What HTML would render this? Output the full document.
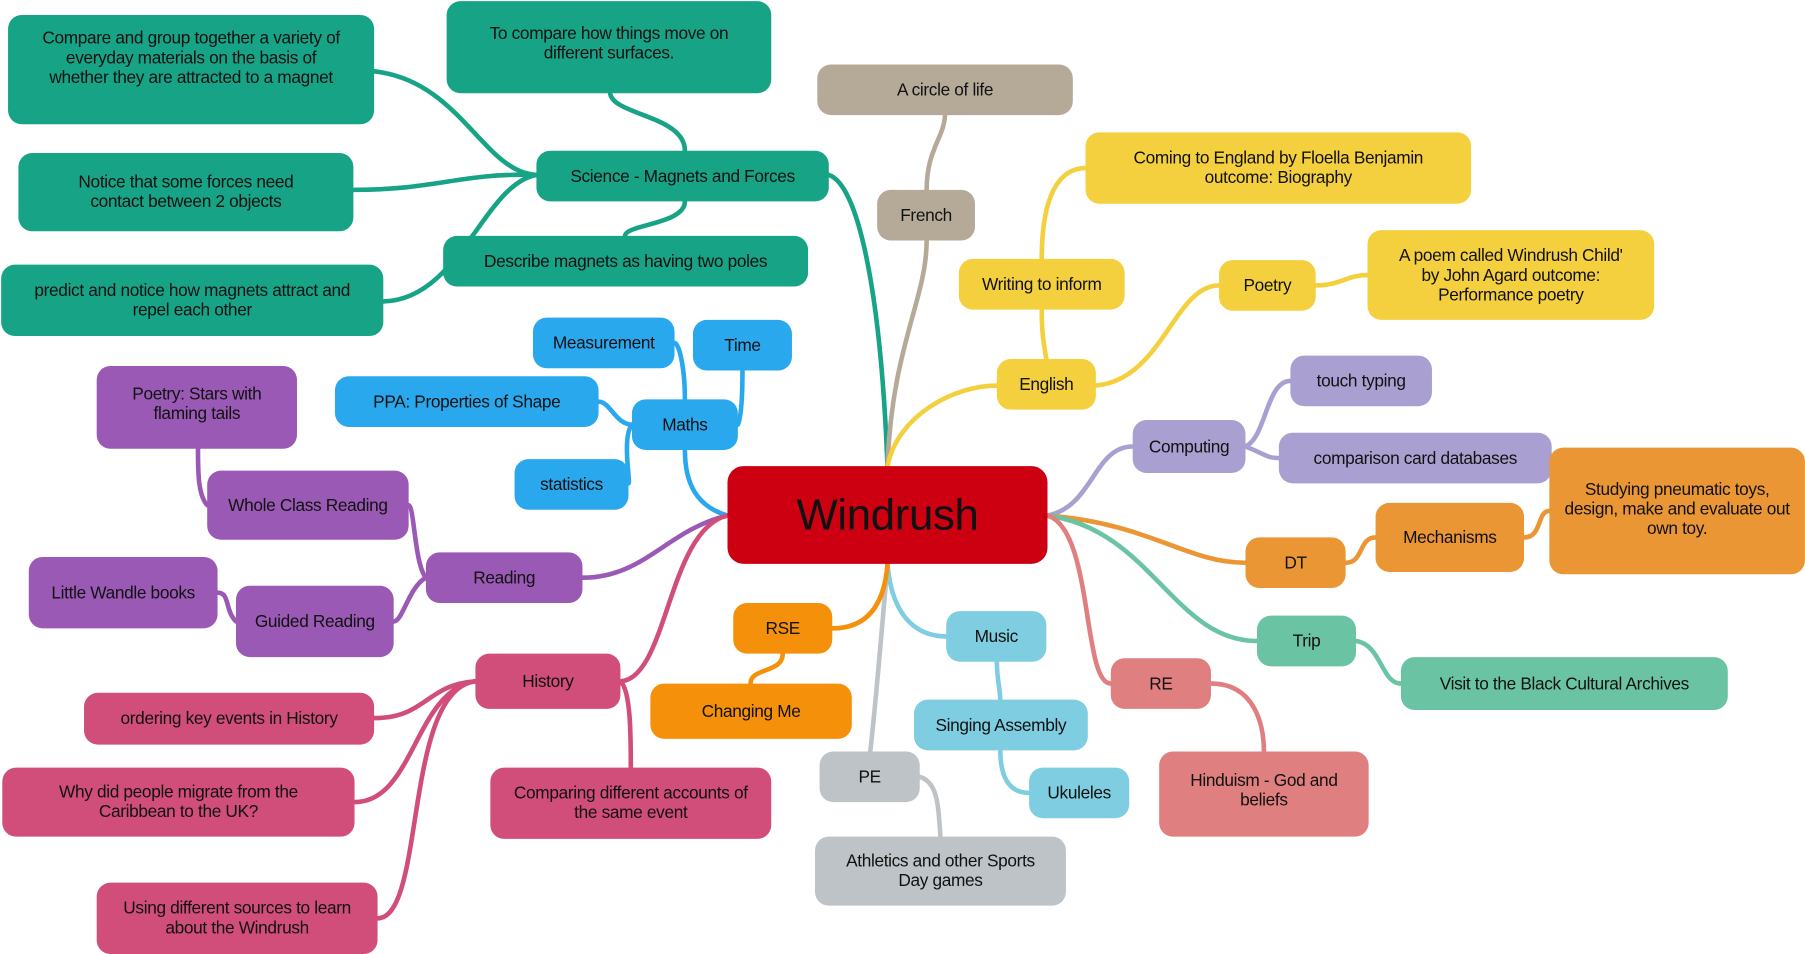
<!DOCTYPE html>
<html><head><meta charset="utf-8"><style>
html,body{margin:0;padding:0;background:#fff;width:1805px;height:954px;overflow:hidden}
#w{position:absolute;left:0;top:0;width:1568px;height:829px;transform:scale(1.1511,1.1508);transform-origin:0 0}
svg{position:absolute;left:0;top:0}
.n{position:absolute;display:flex;align-items:center;justify-content:center;text-align:center;border-radius:12px;font-family:"Liberation Sans",sans-serif;font-size:15px;line-height:17px;color:#111;box-sizing:border-box;padding:4px 8px;letter-spacing:-0.3px}
.x{padding-left:20px;padding-right:20px}
.g{background:#17a386}.b{background:#b5aa98}.y{background:#f4d03f}.p{background:#a9a0d1}.o{background:#ea9634}.t{background:#6ac4a4}.r{background:#e07f80}.m{background:#7ecde0}.s{background:#bdc3c7}.q{background:#f5900a}.k{background:#29a8ee}.v{background:#9b59b6}.h{background:#d14d7a}
</style></head><body><div id="w">
<svg width="1568" height="829" fill="none" stroke-width="4" stroke-linecap="round">
<g stroke="#17a386"><path d="M771,405 C765,250 745,160 720,152"/><path d="M466,152 C420,150 400,70 325,62"/><path d="M466,152 C400,150 380,165 307,165"/><path d="M466,152 C420,160 400,260 333,262"/><path d="M595,131 C595,100 530,100 530,80"/><path d="M595,175 C595,195 543,195 543,205"/></g>
<g stroke="#b5aa98"><path d="M771,405 C775,300 805,260 805,209"/><path d="M805,165 C805,130 820,120 821,100"/></g>
<g stroke="#f4d03f"><path d="M771,405 C780,360 830,335 866,335"/><path d="M909,312 C905,290 905,280 905,269"/><path d="M905,225 C905,170 920,146 943,146"/><path d="M952,335 C1010,330 1020,248 1059,248"/><path d="M1143,248 C1165,248 1170,239 1188,239"/></g>
<g stroke="#a9a0d1"><path d="M910,448 C950,440 950,388 984,388"/><path d="M1082,388 C1100,380 1100,331 1121,331"/><path d="M1082,388 C1100,395 1100,398 1111,398"/></g>
<g stroke="#ea9634"><path d="M910,448 C1000,455 1030,489 1082,489"/><path d="M1169,489 C1185,489 1180,467 1195,467"/><path d="M1324,467 C1340,467 1335,444 1346,444"/></g>
<g stroke="#6ac4a4"><path d="M910,448 C1000,460 1020,557 1092,557"/><path d="M1178,557 C1200,560 1200,594 1217,594"/></g>
<g stroke="#e07f80"><path d="M910,448 C950,460 940,594 965,594"/><path d="M1052,594 C1090,594 1098,630 1098,653"/></g>
<g stroke="#7ecde0"><path d="M771,490 C775,540 800,553 822,553"/><path d="M866,575 C866,590 869,600 869,608"/><path d="M869,652 C869,680 880,689 894,689"/></g>
<g stroke="#bdc3c7"><path d="M771,490 C765,560 760,620 756,653"/><path d="M799,675 C815,680 815,700 817,727"/></g>
<g stroke="#f5900a"><path d="M771,490 C768,530 750,546 723,546"/><path d="M680,568 C680,585 652,580 652,594"/></g>
<g stroke="#29a8ee"><path d="M632,448 C605,440 595,420 595,391"/><path d="M595,347 C595,320 590,298 586,298"/><path d="M641,369 C645,360 645,330 645,322"/><path d="M549,369 C535,369 530,349 520,349"/><path d="M549,369 C540,380 548,420 546,420"/></g>
<g stroke="#9b59b6"><path d="M632,448 C580,460 560,502 506,502"/><path d="M370,502 C360,490 360,440 355,439"/><path d="M180,439 C172,430 172,410 172,390"/><path d="M370,502 C355,510 350,540 342,540"/><path d="M205,540 C195,530 200,515 189,515"/></g>
<g stroke="#d14d7a"><path d="M632,448 C580,460 580,590 539,592"/><path d="M413,592 C370,595 370,624 325,624"/><path d="M413,592 C360,600 360,697 308,697"/><path d="M413,592 C350,600 370,798 328,798"/><path d="M539,592 C548,600 548,640 548,667"/></g>
</svg>
<div class="n" style="left:632px;top:405px;width:278px;height:85px;background:#cc0011;font-size:38px;line-height:44px;border-radius:14px">Windrush</div>
<div class="n g x" style="left:7px;top:13px;width:318px;height:95px;align-items:flex-start;padding-top:12px;padding-left:26px;padding-right:26px">Compare and group together a variety of everyday materials on the basis of whether they are attracted to a magnet</div>
<div class="n g x" style="left:388px;top:1px;width:282px;height:80px;align-items:flex-start;padding-top:20px">To compare how things move on different surfaces.</div>
<div class="n g" style="left:466px;top:131px;width:254px;height:44px">Science - Magnets and Forces</div>
<div class="n g x" style="left:16px;top:133px;width:291px;height:68px;padding-left:30px;padding-right:30px">Notice that some forces need contact between 2 objects</div>
<div class="n g" style="left:385px;top:205px;width:317px;height:44px">Describe magnets as having two poles</div>
<div class="n g x" style="left:1px;top:230px;width:332px;height:62px">predict and notice how magnets attract and repel each other</div>
<div class="n b" style="left:710px;top:56px;width:222px;height:44px">A circle of life</div>
<div class="n b" style="left:762px;top:165px;width:85px;height:44px">French</div>
<div class="n y x" style="left:943px;top:115px;width:335px;height:62px;padding-left:30px;padding-right:30px">Coming to England by Floella Benjamin outcome: Biography</div>
<div class="n y" style="left:833px;top:225px;width:144px;height:44px">Writing to inform</div>
<div class="n y" style="left:1059px;top:226px;width:84px;height:44px">Poetry</div>
<div class="n y x" style="left:1188px;top:200px;width:249px;height:78px">A poem called Windrush Child' by John Agard outcome: Performance poetry</div>
<div class="n y" style="left:866px;top:312px;width:86px;height:44px">English</div>
<div class="n p" style="left:1121px;top:309px;width:123px;height:44px">touch typing</div>
<div class="n p" style="left:984px;top:365px;width:98px;height:46px">Computing</div>
<div class="n p" style="left:1111px;top:376px;width:237px;height:44px">comparison card databases</div>
<div class="n o" style="left:1346px;top:389px;width:222px;height:110px;align-items:flex-start;padding-top:28px">Studying pneumatic toys, design, make and evaluate out own toy.</div>
<div class="n o" style="left:1195px;top:437px;width:129px;height:60px">Mechanisms</div>
<div class="n o" style="left:1082px;top:467px;width:87px;height:44px">DT</div>
<div class="n t" style="left:1092px;top:535px;width:86px;height:44px">Trip</div>
<div class="n t" style="left:1217px;top:571px;width:284px;height:46px">Visit to the Black Cultural Archives</div>
<div class="n r" style="left:965px;top:572px;width:87px;height:44px">RE</div>
<div class="n r" style="left:1007px;top:653px;width:182px;height:74px;align-items:flex-start;padding-top:17px">Hinduism - God and beliefs</div>
<div class="n m" style="left:822px;top:531px;width:87px;height:44px">Music</div>
<div class="n m" style="left:794px;top:608px;width:151px;height:44px">Singing Assembly</div>
<div class="n m" style="left:894px;top:667px;width:87px;height:44px">Ukuleles</div>
<div class="n s" style="left:712px;top:653px;width:87px;height:44px">PE</div>
<div class="n s x" style="left:708px;top:727px;width:218px;height:60px">Athletics and other Sports Day games</div>
<div class="n q" style="left:637px;top:524px;width:86px;height:44px">RSE</div>
<div class="n q" style="left:565px;top:594px;width:175px;height:48px">Changing Me</div>
<div class="n k" style="left:463px;top:276px;width:123px;height:44px">Measurement</div>
<div class="n k" style="left:602px;top:278px;width:86px;height:44px">Time</div>
<div class="n k" style="left:291px;top:327px;width:229px;height:44px">PPA: Properties of Shape</div>
<div class="n k" style="left:549px;top:347px;width:92px;height:44px">Maths</div>
<div class="n k" style="left:447px;top:399px;width:99px;height:44px">statistics</div>
<div class="n v" style="left:84px;top:318px;width:174px;height:72px;align-items:flex-start;padding-top:16px">Poetry: Stars with flaming tails</div>
<div class="n v" style="left:180px;top:409px;width:175px;height:60px">Whole Class Reading</div>
<div class="n v" style="left:370px;top:480px;width:136px;height:44px">Reading</div>
<div class="n v" style="left:25px;top:484px;width:164px;height:62px">Little Wandle books</div>
<div class="n v" style="left:205px;top:509px;width:137px;height:62px">Guided Reading</div>
<div class="n h" style="left:413px;top:568px;width:126px;height:48px">History</div>
<div class="n h" style="left:73px;top:602px;width:252px;height:45px">ordering key events in History</div>
<div class="n h x" style="left:2px;top:667px;width:306px;height:60px">Why did people migrate from the Caribbean to the UK?</div>
<div class="n h x" style="left:426px;top:667px;width:244px;height:62px">Comparing different accounts of the same event</div>
<div class="n h x" style="left:84px;top:767px;width:244px;height:62px">Using different sources to learn about the Windrush</div>
</div></body></html>
